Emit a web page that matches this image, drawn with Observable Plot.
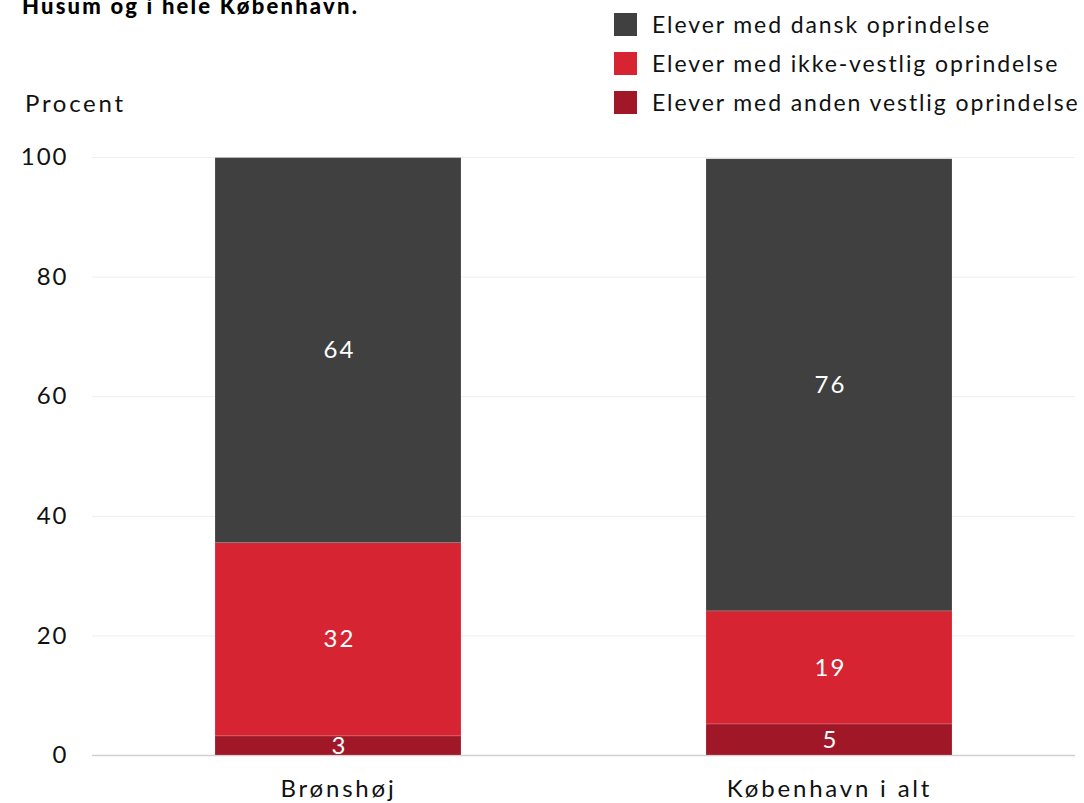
<!DOCTYPE html>
<html>
<head>
<meta charset="utf-8">
<script src="https://cdn.jsdelivr.net/npm/d3@7"></script>
<script src="https://cdn.jsdelivr.net/npm/@observablehq/plot@0.6"></script>
<style>
  html, body { margin: 0; padding: 0; background: #fff; }
  body { width: 1084px; height: 803px; overflow: hidden; position: relative; font-family: Lato, "Noto Sans", sans-serif; color: #111; }
  #title { position: absolute; left: 22px; top: -8px; font-size: 22px; font-weight: 900; color: #000; white-space: nowrap; letter-spacing: 2.2px; }
  #ylabel { position: absolute; left: 25px; top: 88px; font-size: 24px; color: #111; letter-spacing: 2.7px; }
  #legend { position: absolute; left: 614px; top: 5px; }
  .row { display: flex; align-items: center; height: 39px; }
  .sw { width: 23px; height: 23px; margin-right: 15px; position: relative; top: 0px; }
  .lab { font-size: 23px; color: #111; white-space: nowrap; line-height: 1; letter-spacing: 1.9px; }
  #chart { position: absolute; left: 0; top: 0; }
  #chart svg text { letter-spacing: 2px; }
  #chart svg .xax text { letter-spacing: 2.8px; }
</style>
</head>
<body>
<div id="chart"></div>
<div id="title">Husum og i hele København.</div>
<div id="ylabel">Procent</div>
<div id="legend"></div>
<script>
const categories = ["Brønshøj", "København i alt"];
const groups = ["Elever med anden vestlig oprindelse", "Elever med ikke-vestlig oprindelse", "Elever med dansk oprindelse"];
const anden = [3.2, 5.2];
const ikkeVestlig = [32.3, 18.9];
const dansk = [64.4, 75.6];
const yTicks = [0, 20, 40, 60, 80, 100];
const legendOrder = ["Elever med dansk oprindelse", "Elever med ikke-vestlig oprindelse", "Elever med anden vestlig oprindelse"];
const colors = ["#a01828", "#d72433", "#404040"];

const series = [anden, ikkeVestlig, dansk];
const data = [];
categories.forEach((c, i) => {
  groups.forEach((g, j) => data.push({cat: c, group: g, value: series[j][i]}));
});

const plot = Plot.plot({
  width: 1084,
  height: 803,
  marginTop: 157,
  marginBottom: 48,
  marginLeft: 92,
  marginRight: 9,
  style: {fontFamily: "Lato, 'Noto Sans', sans-serif", fontSize: "24px", color: "#111", background: "transparent"},
  x: {domain: categories, paddingInner: 0.5, paddingOuter: 0.25, label: null},
  y: {domain: [0, 100], ticks: yTicks, label: null},
  color: {domain: groups, range: colors},
  marks: [
    Plot.gridY(yTicks, {stroke: "#eeeeee", strokeOpacity: 1}),
    Plot.ruleY([0], {stroke: "#d0d0d0", strokeWidth: 1.5}),
    Plot.barY(data, Plot.stackY({x: "cat", y: "value", z: "group", fill: "group", order: groups, stroke: "#ffffff", strokeOpacity: 0.25, strokeWidth: 0.6})),
    Plot.text(data, Plot.stackY({x: "cat", y: "value", z: "group", order: groups, text: d => String(Math.round(d.value)), fill: "white", fontSize: 24, dx: 1})),
    Plot.axisX({tickSize: 0, tickPadding: 24, fontSize: 24, className: "xax"}),
    Plot.axisY({ticks: yTicks, tickSize: 0, tickPadding: 24, fontSize: 24})
  ]
});
document.getElementById("chart").appendChild(plot);

const leg = document.getElementById("legend");
legendOrder.forEach(g => {
  const row = document.createElement("div");
  row.className = "row";
  const sw = document.createElement("div");
  sw.className = "sw";
  sw.style.background = colors[groups.indexOf(g)];
  const lab = document.createElement("div");
  lab.className = "lab";
  lab.textContent = g;
  row.appendChild(sw);
  row.appendChild(lab);
  leg.appendChild(row);
});
</script>
</body>
</html>
